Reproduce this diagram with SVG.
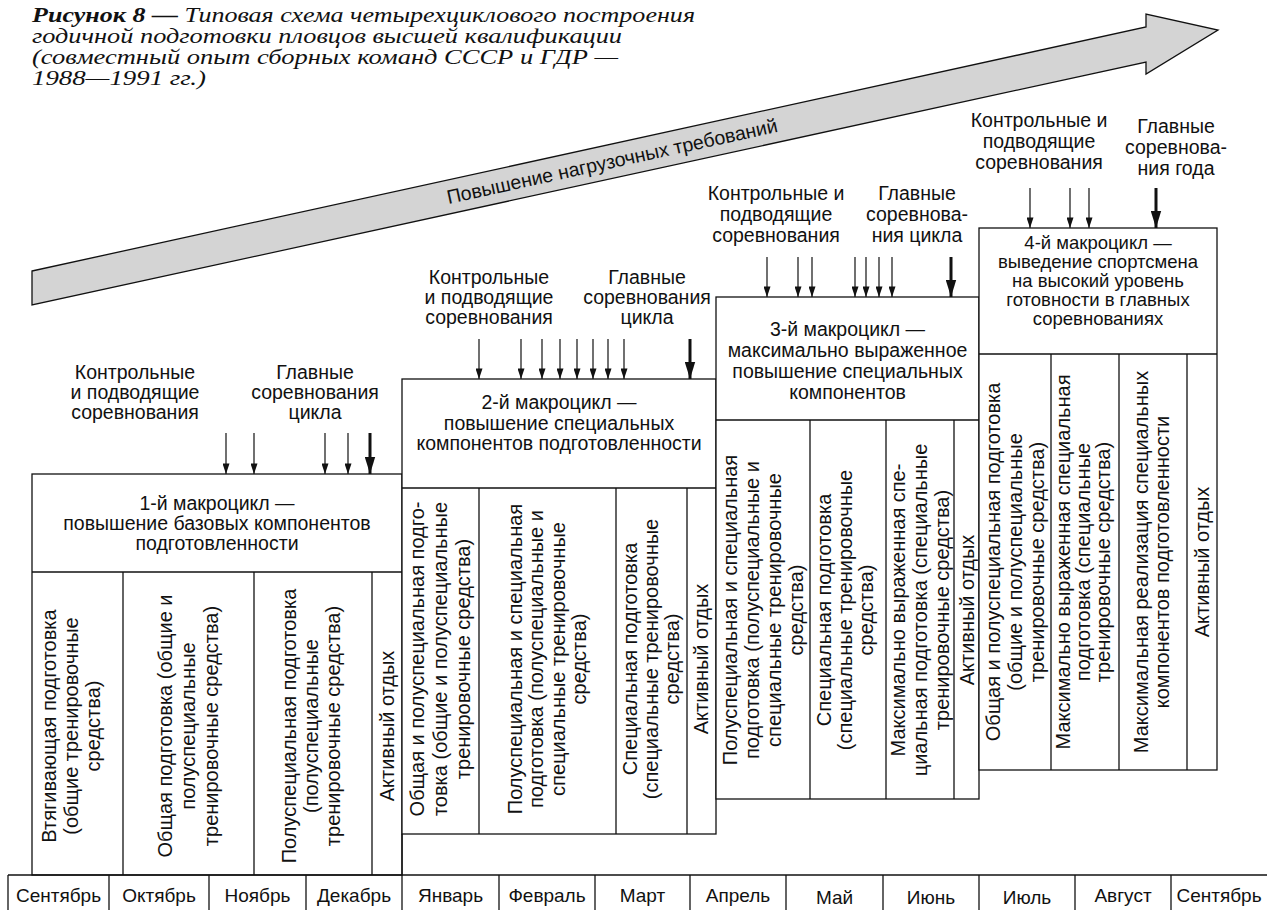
<svg xmlns="http://www.w3.org/2000/svg" width="1267" height="910" viewBox="0 0 1267 910">
<defs>
<style>
.ln{stroke:#111;stroke-width:1.3;fill:none}
.bx{stroke:#111;stroke-width:1.3;fill:#fff}
.t{font-family:"Liberation Sans",Arial,sans-serif;font-size:19.5px;fill:#111;text-anchor:middle}
.t4{font-family:"Liberation Sans",Arial,sans-serif;font-size:18.5px;fill:#111;text-anchor:middle}
.r{font-family:"Liberation Sans",Arial,sans-serif;font-size:20px;fill:#111;text-anchor:middle}
.m{font-family:"Liberation Sans",Arial,sans-serif;font-size:19px;fill:#111;text-anchor:middle}
.ti{font-family:"Liberation Serif","Times New Roman",serif;font-style:italic;font-size:20px;fill:#111}
.a{stroke:#111;stroke-width:1.2;fill:none;marker-end:url(#ah)}
.ak{stroke:#111;stroke-width:3;fill:none;marker-end:url(#ahk)}
</style>
<marker id="ah" viewBox="0 0 12 8" refX="12" refY="4" markerWidth="12" markerHeight="7" markerUnits="userSpaceOnUse" orient="auto"><path d="M0,0 L12,4 L0,8 z" fill="#111"/></marker>
<marker id="ahk" viewBox="0 0 18 11" refX="18" refY="5.5" markerWidth="17" markerHeight="11" markerUnits="userSpaceOnUse" orient="auto"><path d="M0,0 L18,5.5 L0,11 z" fill="#111"/></marker>
</defs>
<rect width="1267" height="910" fill="#fff"/>

<g id="title">
<text class="ti" x="32" y="22" textLength="663" lengthAdjust="spacingAndGlyphs"><tspan font-weight="bold">Рисунок 8 —</tspan> Типовая схема четырехциклового построения</text>
<text class="ti" x="32" y="43" textLength="590" lengthAdjust="spacingAndGlyphs">годичной подготовки пловцов высшей квалификации</text>
<text class="ti" x="32" y="64" textLength="586" lengthAdjust="spacingAndGlyphs">(совместный опыт сборных команд СССР и ГДР —</text>
<text class="ti" x="32" y="85" textLength="174" lengthAdjust="spacingAndGlyphs">1988—1991 гг.)</text>
</g>

<g id="load-arrow">
<polygon points="32,271 1146,27 1146,14 1218,30 1146,74 1146,62 32,305" fill="#d4d4d4" stroke="#111" stroke-width="1.3" stroke-linejoin="miter"/>
<text class="t" transform="translate(612,161) rotate(-12.35)" y="7">Повышение нагрузочных требований</text>
</g>

<g id="connectors">
<line class="a" x1="226" y1="433" x2="226" y2="474"/>
<line class="a" x1="254" y1="433" x2="254" y2="474"/>
<line class="a" x1="325" y1="433" x2="325" y2="474"/>
<line class="a" x1="348" y1="433" x2="348" y2="474"/>
<line class="ak" x1="370" y1="433" x2="370" y2="474"/>

<line class="a" x1="479" y1="339" x2="479" y2="379"/>
<line class="a" x1="521" y1="339" x2="521" y2="379"/>
<line class="a" x1="542" y1="339" x2="542" y2="379"/>
<line class="a" x1="560" y1="339" x2="560" y2="379"/>
<line class="a" x1="577" y1="339" x2="577" y2="379"/>
<line class="a" x1="593" y1="339" x2="593" y2="379"/>
<line class="a" x1="608" y1="339" x2="608" y2="379"/>
<line class="a" x1="624" y1="339" x2="624" y2="379"/>
<line class="ak" x1="690" y1="339" x2="690" y2="379"/>

<line class="a" x1="767" y1="257" x2="767" y2="297"/>
<line class="a" x1="798" y1="257" x2="798" y2="297"/>
<line class="a" x1="812" y1="257" x2="812" y2="297"/>
<line class="a" x1="855" y1="257" x2="855" y2="297"/>
<line class="a" x1="866" y1="257" x2="866" y2="297"/>
<line class="a" x1="879" y1="257" x2="879" y2="297"/>
<line class="a" x1="892" y1="257" x2="892" y2="297"/>
<line class="ak" x1="951" y1="257" x2="951" y2="297"/>

<line class="a" x1="1030" y1="188" x2="1030" y2="228"/>
<line class="a" x1="1070" y1="188" x2="1070" y2="228"/>
<line class="a" x1="1089" y1="188" x2="1089" y2="228"/>
<line class="ak" x1="1156" y1="188" x2="1156" y2="228"/>
</g>

<g id="labels">
<text class="t" x="135" y="379">Контрольные</text>
<text class="t" x="135" y="399">и подводящие</text>
<text class="t" x="135" y="419">соревнования</text>
<text class="t" x="315" y="379">Главные</text>
<text class="t" x="315" y="399">соревнования</text>
<text class="t" x="315" y="419">цикла</text>

<text class="t" x="489" y="284">Контрольные</text>
<text class="t" x="489" y="304">и подводящие</text>
<text class="t" x="489" y="324">соревнования</text>
<text class="t" x="647" y="284">Главные</text>
<text class="t" x="647" y="304">соревнования</text>
<text class="t" x="647" y="324">цикла</text>

<text class="t" x="776" y="200">Контрольные и</text>
<text class="t" x="776" y="221">подводящие</text>
<text class="t" x="776" y="242">соревнования</text>
<text class="t" x="917" y="200">Главные</text>
<text class="t" x="917" y="221">соревнова-</text>
<text class="t" x="917" y="242">ния цикла</text>

<text class="t" x="1039" y="127">Контрольные и</text>
<text class="t" x="1039" y="148">подводящие</text>
<text class="t" x="1039" y="169">соревнования</text>
<text class="t" x="1176" y="133">Главные</text>
<text class="t" x="1176" y="154">соревнова-</text>
<text class="t" x="1176" y="175">ния года</text>
</g>

<g id="macrocycle-1">
<rect class="bx" x="32" y="474" width="370" height="401"/>
<line class="ln" x1="32" y1="572" x2="402" y2="572"/>
<line class="ln" x1="123" y1="572" x2="123" y2="875"/>
<line class="ln" x1="254" y1="572" x2="254" y2="875"/>
<line class="ln" x1="372" y1="572" x2="372" y2="875"/>
<text class="t" x="217" y="510">1-й макроцикл —</text>
<text class="t" x="217" y="530">повышение базовых компонентов</text>
<text class="t" x="217" y="550">подготовленности</text>
<text class="r" transform="translate(71,726) rotate(-90)"><tspan x="0" y="-15">Втягивающая подготовка</tspan><tspan x="0" y="7">(общие тренировочные</tspan><tspan x="0" y="29">средства)</tspan></text>
<text class="r" transform="translate(188,726) rotate(-90)"><tspan x="0" y="-16">Общая подготовка (общие и</tspan><tspan x="0" y="7">полуспециальные</tspan><tspan x="0" y="30">тренировочные средства)</tspan></text>
<text class="r" transform="translate(311,726) rotate(-90)"><tspan x="0" y="-15">Полуспециальная подготовка</tspan><tspan x="0" y="7">(полуспециальные</tspan><tspan x="0" y="29">тренировочные средства)</tspan></text>
<text class="r" transform="translate(387,726) rotate(-90)"><tspan x="0" y="7">Активный отдых</tspan></text>
</g>

<g id="macrocycle-2">
<rect class="bx" x="402" y="379" width="314" height="455"/>
<line class="ln" x1="402" y1="488" x2="716" y2="488"/>
<line class="ln" x1="479" y1="488" x2="479" y2="834"/>
<line class="ln" x1="616" y1="488" x2="616" y2="834"/>
<line class="ln" x1="687" y1="488" x2="687" y2="834"/>
<line class="ln" x1="402" y1="834" x2="402" y2="875"/>
<text class="t" x="559" y="409">2-й макроцикл —</text>
<text class="t" x="559" y="430">повышение специальных</text>
<text class="t" x="559" y="450">компонентов подготовленности</text>
<text class="r" transform="translate(440,659) rotate(-90)"><tspan x="0" y="-16">Общая и полуспециальная подго-</tspan><tspan x="0" y="7">товка (общие и полуспециальные</tspan><tspan x="0" y="30">тренировочные средства)</tspan></text>
<text class="r" transform="translate(547,659) rotate(-90)"><tspan x="0" y="-25.25">Полуспециальная и специальная</tspan><tspan x="0" y="-3.75">подготовка (полуспециальные и</tspan><tspan x="0" y="17.75">специальные тренировочные</tspan><tspan x="0" y="39.25">средства)</tspan></text>
<text class="r" transform="translate(651,659) rotate(-90)"><tspan x="0" y="-14">Специальная подготовка</tspan><tspan x="0" y="7">(специальные тренировочные</tspan><tspan x="0" y="28">средства)</tspan></text>
<text class="r" transform="translate(701,659) rotate(-90)"><tspan x="0" y="7">Активный отдых</tspan></text>
</g>

<g id="macrocycle-3">
<rect class="bx" x="716" y="297" width="263" height="502"/>
<line class="ln" x1="716" y1="420" x2="979" y2="420"/>
<line class="ln" x1="810" y1="420" x2="810" y2="799"/>
<line class="ln" x1="886" y1="420" x2="886" y2="799"/>
<line class="ln" x1="954" y1="420" x2="954" y2="799"/>
<text class="t" x="847.5" y="336">3-й макроцикл —</text>
<text class="t" x="847.5" y="357">максимально выраженное</text>
<text class="t" x="847.5" y="378">повышение специальных</text>
<text class="t" x="847.5" y="399">компонентов</text>
<text class="r" transform="translate(763,610) rotate(-90)"><tspan x="0" y="-26">Полуспециальная и специальная</tspan><tspan x="0" y="-4">подготовка (полуспециальные и</tspan><tspan x="0" y="18">специальные тренировочные</tspan><tspan x="0" y="40">средства)</tspan></text>
<text class="r" transform="translate(845,610) rotate(-90)"><tspan x="0" y="-14">Специальная подготовка</tspan><tspan x="0" y="7">(специальные тренировочные</tspan><tspan x="0" y="28">средства)</tspan></text>
<text class="r" transform="translate(920,610) rotate(-90)"><tspan x="0" y="-15">Максимально выраженная спе-</tspan><tspan x="0" y="7">циальная подготовка (специальные</tspan><tspan x="0" y="29">тренировочные средства)</tspan></text>
<text class="r" transform="translate(967,610) rotate(-90)"><tspan x="0" y="7">Активный отдых</tspan></text>
</g>

<g id="macrocycle-4">
<rect class="bx" x="979" y="228" width="238" height="542"/>
<line class="ln" x1="979" y1="354" x2="1217" y2="354"/>
<line class="ln" x1="1051" y1="354" x2="1051" y2="770"/>
<line class="ln" x1="1119" y1="354" x2="1119" y2="770"/>
<line class="ln" x1="1187" y1="354" x2="1187" y2="770"/>
<text class="t4" x="1098" y="249">4-й макроцикл —</text>
<text class="t4" x="1098" y="268">выведение спортсмена</text>
<text class="t4" x="1098" y="287">на высокий уровень</text>
<text class="t4" x="1098" y="306">готовности в главных</text>
<text class="t4" x="1098" y="325">соревнованиях</text>
<text class="r" transform="translate(1015,562) rotate(-90)"><tspan x="0" y="-15">Общая и полуспециальная подготовка</tspan><tspan x="0" y="7">(общие и полуспециальные</tspan><tspan x="0" y="29">тренировочные средства)</tspan></text>
<text class="r" transform="translate(1083,562) rotate(-90)"><tspan x="0" y="-13">Максимально выраженная специальная</tspan><tspan x="0" y="7">подготовка (специальные</tspan><tspan x="0" y="27">тренировочные средства)</tspan></text>
<text class="r" transform="translate(1151,562) rotate(-90)"><tspan x="0" y="-3.5">Максимальная реализация специальных</tspan><tspan x="0" y="17.5">компонентов подготовленности</tspan></text>
<text class="r" transform="translate(1202,562) rotate(-90)"><tspan x="0" y="7">Активный отдых</tspan></text>
</g>

<g id="months">
<line class="ln" x1="8" y1="875" x2="1267" y2="875"/>
<line class="ln" x1="8" y1="875" x2="8" y2="910"/>
<line class="ln" x1="109" y1="875" x2="109" y2="910"/>
<line class="ln" x1="209" y1="875" x2="209" y2="910"/>
<line class="ln" x1="306" y1="875" x2="306" y2="910"/>
<line class="ln" x1="402" y1="875" x2="402" y2="910"/>
<line class="ln" x1="499" y1="875" x2="499" y2="910"/>
<line class="ln" x1="595" y1="875" x2="595" y2="910"/>
<line class="ln" x1="690" y1="875" x2="690" y2="910"/>
<line class="ln" x1="786" y1="875" x2="786" y2="910"/>
<line class="ln" x1="883" y1="875" x2="883" y2="910"/>
<line class="ln" x1="979" y1="875" x2="979" y2="910"/>
<line class="ln" x1="1075" y1="875" x2="1075" y2="910"/>
<line class="ln" x1="1171" y1="875" x2="1171" y2="910"/>
<text class="m" x="58.5" y="902">Сентябрь</text>
<text class="m" x="159" y="902">Октябрь</text>
<text class="m" x="257.5" y="902">Ноябрь</text>
<text class="m" x="354" y="902">Декабрь</text>
<text class="m" x="450.5" y="902">Январь</text>
<text class="m" x="547" y="902">Февраль</text>
<text class="m" x="642.5" y="902">Март</text>
<text class="m" x="738" y="902">Апрель</text>
<text class="m" x="834.5" y="904">Май</text>
<text class="m" x="931" y="904">Июнь</text>
<text class="m" x="1027" y="904">Июль</text>
<text class="m" x="1123" y="902">Август</text>
<text class="m" x="1219" y="902">Сентябрь</text>
</g>
</svg>
